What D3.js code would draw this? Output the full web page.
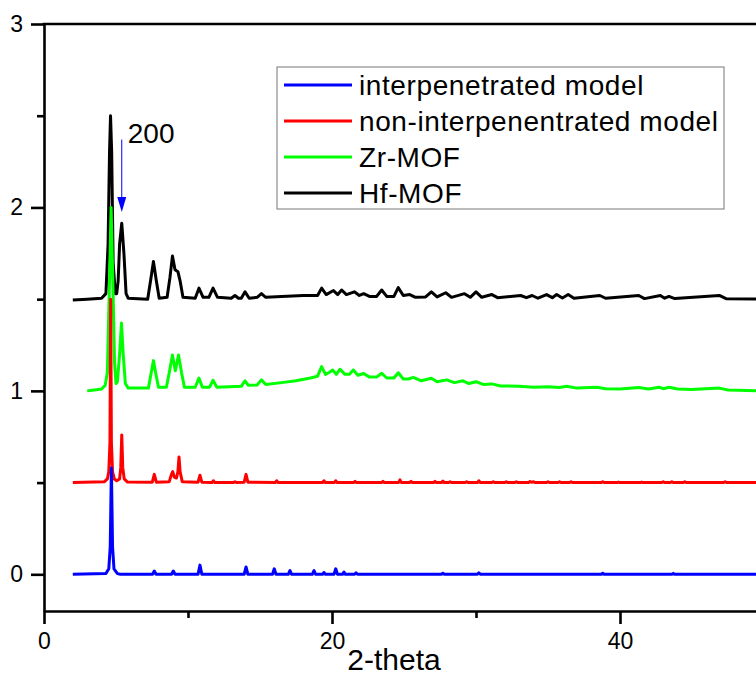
<!DOCTYPE html>
<html>
<head>
<meta charset="utf-8">
<script src="https://cdn.jsdelivr.net/npm/d3@7"></script>
<style>
  html, body { margin: 0; padding: 0; background: #fff; }
  svg { display: block; font-family: "Liberation Sans", Arial, sans-serif; }
</style>
</head>
<body>
<svg id="chart" width="756" height="676"></svg>
<script>
// Series legend labels and colours (drawn bottom to top offset: 0, 0.5, 1.0, 1.5)
const seriesNames = ["interpenetrated model", "non-interpenentrated model", "Zr-MOF", "Hf-MOF"];
const seriesColors = ["#0000ff", "#ff0000", "#00ff00", "#000000"];

// Axis ticks
const xMajorTicks = [0, 20, 40];
const xMinorTicks = [10, 30, 50];
const yMajorTicks = [0, 1, 2, 3];
const yMinorTicks = [0.5, 1.5, 2.5];
const xTitle = "2-theta";

// Annotation: reflection index marked above the second Hf-MOF peak
const annotationText = "200";
const annotationX = 5.4;
const annotationTop = 2.37;
const annotationTip = 1.975;

// Simulated pattern, interpenetrated model: [2-theta, intensity]
const interpenetrated = [
  [2.0,0],[4.3,0.004],[4.5,0.03],[4.6,0.15],[4.68,0.58],[4.76,0.15],[4.86,0.03],[5.1,0.004],[5.3,0],
  [7.54,0],[7.66,0.018],[7.78,0],[8.86,0],[8.98,0.018],[9.1,0],
  [10.7,0],[10.83,0.05],[10.96,0],[13.9,0],[14.03,0.04],[14.16,0],
  [15.87,0],[15.99,0.03],[16.11,0],[16.96,0],[17.08,0.02],[17.2,0],
  [18.63,0],[18.75,0.02],[18.87,0],[19.34,0],[19.44,0.01],[19.54,0],
  [20.14,0],[20.26,0.03],[20.38,0],[20.73,0],[20.83,0.012],[20.93,0],
  [21.57,0],[21.67,0.008],[21.77,0],[27.6,0],[27.7,0.006],[27.8,0],
  [30.1,0],[30.2,0.008],[30.3,0],[38.7,0],[38.8,0.006],[38.9,0],
  [43.6,0],[43.7,0.005],[43.8,0],[50,0]
];

// Simulated pattern, non-interpenetrated model
const nonInterpenetrated = [
  [2.0,0.5],[4.2,0.505],[4.4,0.52],[4.5,0.56],[4.58,0.72],[4.63,1.5],[4.68,0.72],[4.76,0.56],[4.88,0.52],
  [5.05,0.51],[5.25,0.52],[5.33,0.58],[5.4,0.76],[5.47,0.58],[5.57,0.52],[5.8,0.503],
  [7.52,0.502],[7.66,0.545],[7.8,0.502],[8.7,0.505],[8.85,0.545],[8.94,0.56],[9.05,0.53],[9.2,0.525],
  [9.3,0.56],[9.375,0.64],[9.45,0.56],[9.6,0.505],
  [10.7,0.502],[10.83,0.54],[10.96,0.502],[11.66,0.5],[11.76,0.51],[11.86,0.5],
  [13.16,0.5],[13.26,0.505],[13.36,0.5],[13.9,0.502],[14.03,0.545],[14.16,0.502],
  [16.06,0.5],[16.16,0.51],[16.26,0.5],[19.34,0.5],[19.44,0.51],[19.54,0.5],
  [20.16,0.5],[20.26,0.51],[20.36,0.5],[21.5,0.5],[21.6,0.507],[21.7,0.5],
  [23.44,0.5],[23.54,0.507],[23.64,0.5],[24.62,0.5],[24.72,0.515],[24.82,0.5],
  [25.39,0.5],[25.49,0.507],[25.59,0.5],[27.05,0.5],[27.15,0.507],[27.25,0.5],
  [27.6,0.5],[27.7,0.508],[27.8,0.5],[28.1,0.5],[28.2,0.505],[28.3,0.5],
  [29.25,0.5],[29.35,0.505],[29.45,0.5],[30.1,0.5],[30.2,0.51],[30.3,0.5],
  [31.1,0.5],[31.2,0.505],[31.3,0.5],[32.0,0.5],[32.1,0.505],[32.2,0.5],
  [32.7,0.5],[32.8,0.505],[32.9,0.5],[33.65,0.5],[33.75,0.506],[33.85,0.502],[34.0,0.505],[34.1,0.5],
  [34.9,0.5],[35.0,0.505],[35.1,0.5],[35.7,0.5],[35.8,0.505],[35.9,0.5],
  [36.5,0.5],[36.6,0.505],[36.7,0.5],[38.7,0.5],[38.8,0.505],[38.9,0.5],
  [39.8,0.5],[39.9,0.503],[40.0,0.5],[41.4,0.5],[41.5,0.503],[41.6,0.5],
  [42.9,0.5],[43.0,0.505],[43.1,0.5],[43.5,0.5],[43.6,0.505],[43.7,0.5],
  [44.4,0.5],[44.5,0.505],[44.6,0.5],[47.2,0.5],[47.3,0.505],[47.4,0.5],[50,0.5]
];

// Measured pattern, Zr-MOF
const zrMOF = [
  [3.0,1.0],[3.5,1.005],[4.0,1.01],[4.25,1.03],[4.4,1.1],[4.55,1.6],[4.66,2.0],[4.78,1.6],[4.9,1.15],
  [5.0,1.04],[5.1,1.05],[5.25,1.2],[5.38,1.37],[5.5,1.2],[5.65,1.04],[5.85,1.015],
  [7.25,1.015],[7.45,1.1],[7.6,1.165],[7.75,1.1],[7.95,1.02],
  [8.5,1.02],[8.7,1.1],[8.92,1.196],[9.12,1.11],[9.34,1.196],[9.55,1.1],[9.75,1.02],
  [10.5,1.02],[10.76,1.07],[11.0,1.02],[11.5,1.02],[11.74,1.058],[12.0,1.02],
  [13.7,1.025],[13.96,1.055],[14.2,1.03],[14.8,1.032],[15.1,1.06],[15.4,1.035],
  [16.5,1.045],[17.5,1.055],[18.5,1.07],[19.0,1.08],[19.28,1.132],[19.55,1.09],
  [19.8,1.1],[20.05,1.114],[20.3,1.09],[20.56,1.118],[20.9,1.09],[21.2,1.09],[21.48,1.114],
  [21.8,1.085],[22.2,1.095],[22.6,1.075],[23.1,1.075],[23.45,1.096],[23.8,1.07],
  [24.3,1.07],[24.6,1.099],[24.95,1.065],[25.3,1.065],[25.65,1.074],[26.2,1.055],
  [26.9,1.069],[27.3,1.05],[27.97,1.06],[28.5,1.045],[29.1,1.055],[29.5,1.04],
  [30.0,1.05],[30.5,1.035],[31.1,1.038],[31.7,1.027],[33.0,1.025],[34.0,1.02],
  [35.0,1.022],[35.8,1.018],[36.3,1.025],[37.0,1.015],[38.4,1.02],[39.0,1.012],
  [40.0,1.01],[41.3,1.018],[42.0,1.01],[42.7,1.02],[43.0,1.012],[43.4,1.02],
  [44.0,1.01],[45.0,1.008],[46.9,1.015],[47.5,1.005],[50,1.0]
];

// Measured pattern, Hf-MOF
const hfMOF = [
  [2.0,1.495],[3.0,1.5],[4.0,1.505],[4.3,1.53],[4.45,1.8],[4.55,2.3],[4.62,2.5],[4.7,2.3],[4.8,1.7],
  [4.95,1.53],[5.05,1.53],[5.15,1.6],[5.25,1.8],[5.4,1.914],[5.55,1.75],[5.7,1.53],[5.85,1.505],
  [7.2,1.5],[7.4,1.6],[7.6,1.705],[7.8,1.6],[8.0,1.505],
  [8.55,1.51],[8.75,1.62],[8.92,1.735],[9.1,1.66],[9.3,1.65],[9.45,1.6],[9.65,1.51],
  [10.5,1.505],[10.76,1.56],[11.05,1.51],[11.45,1.51],[11.74,1.56],[12.05,1.51],
  [13.0,1.505],[13.26,1.52],[13.5,1.505],[13.7,1.505],[13.96,1.54],[14.25,1.505],
  [14.8,1.51],[15.1,1.53],[15.4,1.51],[16.5,1.515],[18.0,1.52],[19.0,1.52],
  [19.28,1.56],[19.6,1.525],[20.1,1.547],[20.4,1.525],[20.67,1.55],[21.0,1.525],
  [21.55,1.54],[21.9,1.52],[22.2,1.53],[22.6,1.515],[23.1,1.515],[23.45,1.55],
  [23.8,1.515],[24.3,1.515],[24.6,1.563],[24.95,1.52],[25.4,1.525],[25.8,1.51],
  [26.5,1.512],[26.9,1.54],[27.3,1.512],[27.9,1.535],[28.3,1.51],[29.2,1.53],
  [29.6,1.51],[30.0,1.54],[30.4,1.51],[31.1,1.525],[31.5,1.508],[33.1,1.52],
  [33.5,1.508],[33.9,1.52],[34.3,1.505],[34.9,1.525],[35.3,1.508],[35.6,1.525],
  [36.0,1.506],[36.4,1.525],[36.8,1.505],[38.6,1.52],[39.0,1.505],[41.3,1.52],
  [41.7,1.503],[42.8,1.52],[43.1,1.505],[43.4,1.515],[43.8,1.503],[46.9,1.52],
  [47.4,1.502],[50,1.5]
];

const seriesData = [interpenetrated, nonInterpenetrated, zrMOF, hfMOF];

const svg = d3.select("#chart");
const plot = { left: 44, right: 764, top: 24, bottom: 611 };

const x = d3.scaleLinear().domain([0, 50]).range([plot.left, plot.right]);
const y = d3.scaleLinear().domain([-0.2, 3]).range([plot.bottom, plot.top]);

svg.append("defs").append("clipPath").attr("id", "plotClip")
  .append("rect")
  .attr("x", plot.left).attr("y", plot.top)
  .attr("width", plot.right - plot.left).attr("height", plot.bottom - plot.top);

// Patterns: drawn top series first so the lower patterns sit in front
const line = d3.line().x(d => x(d[0])).y(d => y(d[1]));
const traces = svg.append("g").attr("clip-path", "url(#plotClip)");
[3, 2, 1, 0].forEach(i => {
  traces.append("path")
    .datum(seriesData[i])
    .attr("fill", "none")
    .attr("stroke", seriesColors[i])
    .attr("stroke-width", 3)
    .attr("stroke-linejoin", "round")
    .attr("d", line);
});

// Axes
const axisStroke = 2.6;
function styleAxis(g) {
  g.select(".domain").attr("stroke", "#000").attr("stroke-width", axisStroke);
  g.selectAll(".tick line").attr("stroke", "#000").attr("stroke-width", axisStroke);
  g.selectAll(".tick text").attr("fill", "#000").attr("font-size", 23)
    .attr("font-family", "'Liberation Sans', Arial, sans-serif");
}

const xAxis = svg.append("g")
  .attr("transform", `translate(0,${plot.bottom})`)
  .call(d3.axisBottom(x).tickValues(xMajorTicks).tickSize(13).tickPadding(9).tickSizeOuter(0).tickFormat(d3.format("d")));
styleAxis(xAxis);

svg.append("g")
  .attr("transform", `translate(0,${plot.bottom})`)
  .call(d3.axisBottom(x).tickValues(xMinorTicks).tickSize(7).tickSizeOuter(0).tickFormat(""))
  .call(g => g.select(".domain").remove())
  .call(g => g.selectAll(".tick line").attr("stroke", "#000").attr("stroke-width", axisStroke));

const yAxis = svg.append("g")
  .attr("transform", `translate(${plot.left},0)`)
  .call(d3.axisLeft(y).tickValues(yMajorTicks).tickSize(13).tickPadding(8).tickSizeOuter(0).tickFormat(d3.format("d")));
styleAxis(yAxis);

svg.append("g")
  .attr("transform", `translate(${plot.left},0)`)
  .call(d3.axisLeft(y).tickValues(yMinorTicks).tickSize(7).tickSizeOuter(0).tickFormat(""))
  .call(g => g.select(".domain").remove())
  .call(g => g.selectAll(".tick line").attr("stroke", "#000").attr("stroke-width", axisStroke));

// Top frame
svg.append("line")
  .attr("x1", plot.left - axisStroke / 2).attr("x2", plot.right)
  .attr("y1", plot.top).attr("y2", plot.top)
  .attr("stroke", "#000").attr("stroke-width", axisStroke);

// Axis title
svg.append("text")
  .attr("x", 394).attr("y", 670)
  .attr("text-anchor", "middle")
  .attr("font-size", 30)
  .attr("fill", "#000")
  .text(xTitle);

// Annotation arrow
const arrowColor = "#0000ff";
svg.append("line")
  .attr("x1", x(annotationX)).attr("x2", x(annotationX))
  .attr("y1", y(annotationTop)).attr("y2", y(annotationTip) - 12)
  .attr("stroke", arrowColor).attr("stroke-width", 1);
svg.append("path")
  .attr("d", `M${x(annotationX) - 4.5},${y(annotationTip) - 15} L${x(annotationX) + 4.5},${y(annotationTip) - 15} L${x(annotationX)},${y(annotationTip)} Z`)
  .attr("fill", arrowColor);
svg.append("text")
  .attr("x", x(annotationX) + 6).attr("y", y(annotationTop) + 3)
  .attr("font-size", 28)
  .attr("fill", "#000")
  .text(annotationText);

// Legend
const legend = svg.append("g").attr("transform", "translate(277,67)");
legend.append("rect")
  .attr("x", 0).attr("y", 0).attr("width", 447).attr("height", 142)
  .attr("fill", "#fff").attr("stroke", "#777").attr("stroke-width", 1);
seriesNames.forEach((name, i) => {
  const cy = 18 + i * 36;
  legend.append("line")
    .attr("x1", 7).attr("x2", 75).attr("y1", cy).attr("y2", cy)
    .attr("stroke", seriesColors[i]).attr("stroke-width", 2.8);
  legend.append("text")
    .attr("x", 82).attr("y", cy)
    .attr("dy", "0.36em")
    .attr("font-size", 28)
    .attr("letter-spacing", 0.6)
    .attr("fill", "#000")
    .text(name);
});
</script>
</body>
</html>
